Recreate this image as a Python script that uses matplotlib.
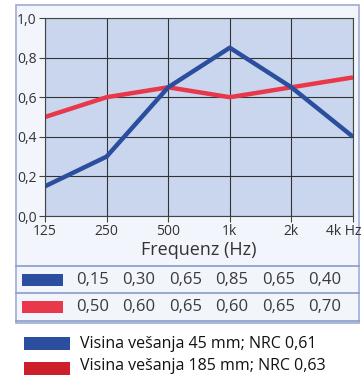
import matplotlib.pyplot as plt
import matplotlib.transforms as mtransforms
from matplotlib.patches import Rectangle

freqs = ["125", "250", "500", "1k", "2k", "4k Hz"]
alpha_45 = [0.15, 0.30, 0.65, 0.85, 0.65, 0.40]
alpha_185 = [0.50, 0.60, 0.65, 0.60, 0.65, 0.70]
yticks = [0.0, 0.2, 0.4, 0.6, 0.8, 1.0]
legend_labels = ["Visina vešanja 45 mm; NRC 0,61", "Visina vešanja 185 mm; NRC 0,63"]

blue = "#2b4e9e"
red = "#e8384a"
plt.rcParams["font.family"] = ["Open Sans", "DejaVu Sans"]

W, H = 363, 379
fig = plt.figure(figsize=(W / 100, H / 100), dpi=100)

# overlay in pixel coords for panel, table and legend
bg = fig.add_axes([0, 0, 1, 1])
bg.set_xlim(0, W)
bg.set_ylim(H, 0)
bg.axis("off")
bg.add_patch(Rectangle((16, 5), 343, 318, facecolor="#f2f5fb", edgecolor="#9eacd6", lw=1.2))
for y in (266, 293, 321):
    bg.plot([16, 359], [y, y], color="#8a9cc8", lw=1.2)

def fmt(v):
    return f"{v:.2f}".replace(".", ",")

for row, (vals, col, y) in enumerate([(alpha_45, blue, 280), (alpha_185, red, 307)]):
    bg.add_patch(Rectangle((22, y - 6), 41, 12, facecolor=col, edgecolor="none"))
    for i, v in enumerate(vals):
        bg.text(76 + i * 46.5, y, fmt(v), fontsize=12, color="#3a3a3a", va="center", ha="left")

leg_cols = [blue, "#cc1f2a"]
for i, (lab, col) in enumerate(zip(legend_labels, leg_cols)):
    y = 344 + i * 22
    bg.add_patch(Rectangle((24, y - 7 + i * 3), 46, 13, facecolor=col, edgecolor="none"))
    bg.text(80, y, lab, fontsize=11.5, color="#111111", va="center", ha="left")

# main chart
ax = fig.add_axes([45 / W, 1 - 216 / H, 308 / W, 198 / H])
ax.set_facecolor("#c9d6ee")
x = list(range(len(freqs)))
ax.plot(x, alpha_185, color=red, lw=3.2, solid_capstyle="butt")
ax.plot(x, alpha_45, color=blue, lw=3.2, solid_capstyle="butt")
ax.set_xlim(0, len(freqs) - 1)
ax.set_ylim(0, 1.0)
ax.set_yticks(yticks)
ax.set_yticklabels([f"{t:.1f}".replace(".", ",") for t in yticks])
ax.set_xticks(x)
ax.set_xticklabels(freqs)
ax.grid(True, color="#333333", lw=0.8)
ax.set_axisbelow(True)
for s in ax.spines.values():
    s.set_color("#444444")
    s.set_linewidth(0.8)
ax.tick_params(axis="both", labelsize=10, colors="#444444", length=4, width=0.8, pad=2)
ax.tick_params(axis="x", labelcolor="#333333")
ax.tick_params(axis="y", labelcolor="#333333")
last = ax.get_xticklabels()[-1]
last.set_horizontalalignment("right")
last.set_transform(last.get_transform() + mtransforms.ScaledTranslation(0.09, 0, fig.dpi_scale_trans))
ax.set_xlabel("Frequenz (Hz)", fontsize=13, color="#333333", labelpad=1)

fig.savefig("out.png", dpi=100)
